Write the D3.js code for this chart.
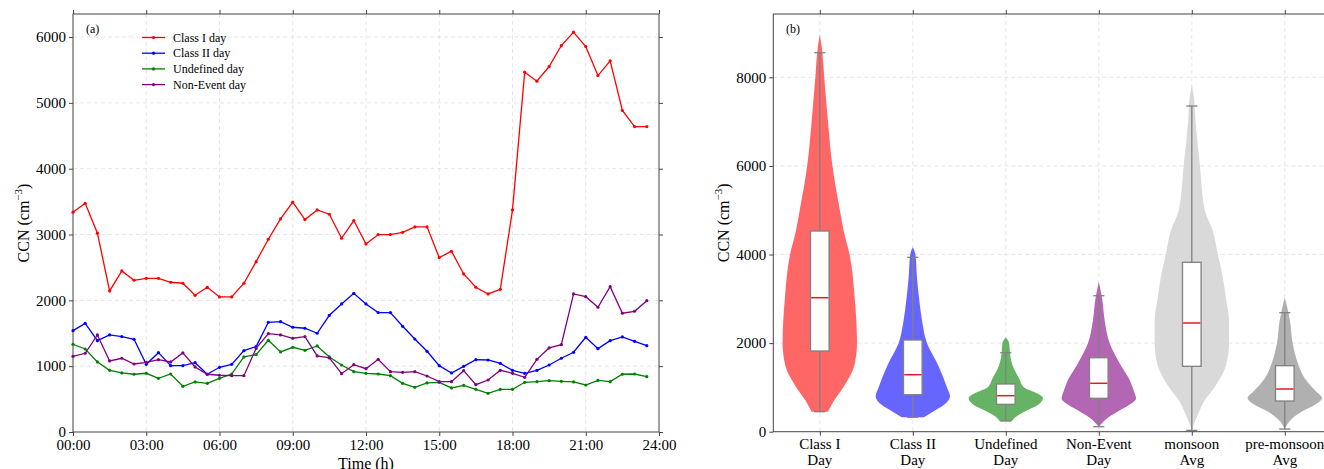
<!DOCTYPE html>
<html>
<head>
<meta charset="utf-8">
<script src="https://cdn.jsdelivr.net/npm/d3@7"></script>
<style>
  body { margin: 0; background: #fff; }
  svg text { font-family: "Liberation Serif", "Times New Roman", serif; fill: #000; }
  .grid line { stroke: #e0e0e0; stroke-dasharray: 4,3; stroke-width: 0.8; }
  .axis path, .axis line { stroke: #444; }
</style>
</head>
<body>
<div id="chart"></div>
<script>
// ---- panel (a) data : half-hourly mean CCN ----
const hours = d3.range(48).map(i => i * 0.5);

const classI = [3339, 3475, 3020, 2143, 2447, 2305, 2335, 2335, 2275, 2260, 2077, 2199,
  2052, 2052, 2260, 2588, 2928, 3237, 3491, 3227, 3374, 3308, 2943, 3212,
  2857, 2999, 2999, 3034, 3116, 3116, 2649, 2746, 2401, 2199, 2097, 2168,
  3374, 5466, 5329, 5552, 5871, 6074, 5856, 5415, 5638, 4884, 4640, 4640];
const classII = [1540, 1651, 1388, 1474, 1449, 1408, 1028, 1205, 1008, 1008, 1053, 877,
  983, 1028, 1236, 1297, 1666, 1676, 1591, 1576, 1500, 1773, 1945, 2107,
  1945, 1814, 1814, 1606, 1413, 1226, 1008, 897, 998, 1099, 1094, 1043,
  937, 892, 937, 1018, 1120, 1211, 1439, 1266, 1388, 1444, 1378, 1312];
const undefinedDay = [1333, 1261, 1064, 937, 897, 877, 892, 816, 881, 694, 760, 740,
  816, 881, 1140, 1175, 1394, 1216, 1287, 1241, 1307, 1140, 1018, 917,
  892, 881, 856, 740, 679, 745, 755, 669, 709, 649, 588, 649,
  649, 755, 765, 780, 770, 760, 714, 785, 765, 877, 881, 841];
const nonEvent = [1150, 1196, 1474, 1079, 1120, 1033, 1059, 1099, 1064, 1201, 988, 877,
  862, 856, 856, 1270, 1494, 1474, 1424, 1449, 1155, 1125, 886, 1023,
  962, 1104, 917, 907, 917, 851, 765, 765, 932, 719, 790, 937,
  892, 831, 1104, 1277, 1327, 2097, 2056, 1895, 2208, 1804, 1834, 1995];

const seriesNames = ["Class I day", "Class II day", "Undefined day", "Non-Event day"];
const seriesColors = ["#ff0000", "#0000ff", "#008000", "#800080"];
const seriesValues = [classI, classII, undefinedDay, nonEvent];

const timeTicks = [0, 3, 6, 9, 12, 15, 18, 21, 24];
const timeTickLabels = ["00:00", "03:00", "06:00", "09:00", "12:00", "15:00", "18:00", "21:00", "24:00"];
const ccnTicksA = [0, 1000, 2000, 3000, 4000, 5000, 6000];

// ---- panel (b) data : distributions ----
const groupLabels = [["Class I", "Day"], ["Class II", "Day"], ["Undefined", "Day"],
  ["Non-Event", "Day"], ["monsoon", "Avg"], ["pre-monsoon", "Avg"]];
const violinColors = ["#ff6666", "#6666ff", "#66b366", "#b366b3", "#d9d9d9", "#b0b0b0"];

// [value, relative half width]
const violinClassI = [[451, 0.22], [500, 0.25], [700, 0.38], [1000, 0.63], [1500, 0.93], [2000, 1.0],
  [3000, 0.94], [4000, 0.8], [4500, 0.65], [5000, 0.54], [6000, 0.34], [7000, 0.22], [8000, 0.12], [8700, 0.05], [8970, 0]];
const violinClassII = [[325, 0.3], [450, 0.54], [600, 0.83], [800, 1.0], [1000, 0.92], [1500, 0.68],
  [2000, 0.38], [2500, 0.25], [3000, 0.17], [3500, 0.11], [4000, 0.07], [4162, 0]];
const violinUndefined = [[241, 0.17], [300, 0.22], [450, 0.5], [600, 0.86], [760, 1.0], [900, 0.75],
  [1000, 0.49], [1200, 0.36], [1500, 0.18], [1800, 0.11], [2000, 0.09], [2130, 0]];
const violinNonEvent = [[113, 0], [300, 0.22], [450, 0.5], [600, 0.81], [750, 1.0], [900, 0.95],
  [1200, 0.81], [1500, 0.59], [2000, 0.29], [2500, 0.16], [3000, 0.09], [3386, 0]];
const violinMonsoon = [[30, 0], [150, 0.05], [400, 0.17], [700, 0.34], [1000, 0.61], [1500, 0.92],
  [2000, 1.0], [2500, 1.0], [3000, 0.92], [3500, 0.83], [4000, 0.7], [4550, 0.56], [5000, 0.35],
  [6000, 0.22], [7000, 0.1], [7600, 0.05], [7824, 0]];
const violinPreMonsoon = [[60, 0], [300, 0.2], [450, 0.45], [600, 0.8], [760, 1.0], [900, 0.85],
  [1200, 0.54], [1500, 0.37], [2000, 0.21], [2500, 0.14], [3034, 0]];
const violins = [violinClassI, violinClassII, violinUndefined, violinNonEvent, violinMonsoon, violinPreMonsoon];

// box stats: [low whisker, q1, median, q3, high whisker]
const boxStats = [
  [451, 1822, 3025, 4530, 8555],
  [325, 835, 1287, 2070, 3937],
  [241, 618, 813, 1077, 1783],
  [113, 754, 1093, 1670, 3070],
  [30, 1476, 2454, 3824, 7352],
  [60, 693, 964, 1490, 2686]
];
const ccnTicksB = [0, 2000, 4000, 6000, 8000];

// ---- layout ----
const W = 1324, H = 469;
const svg = d3.select("#chart").append("svg").attr("width", W).attr("height", H);

const fontTick = 15, fontLabel = 16;
const serif = "Liberation Serif, Times New Roman, serif";

function drawFrame(g, left, right, top, bottom) {
    g.append("rect").attr("x", left).attr("y", top)
        .attr("width", right - left).attr("height", bottom - top)
        .attr("fill", "none").attr("stroke", "#444").attr("stroke-width", 1);
}

function styleTicks(sel) {
    sel.attr("font-family", serif).attr("font-size", fontTick);
    sel.select(".domain").remove();
}

/* * * * * * * * * * * * * *
*       Panel (a)          *
* * * * * * * * * * * * * */
const a = {left: 73, right: 659, top: 14, bottom: 432};
const xA = d3.scaleLinear().domain([0, 24]).range([a.left, a.right]);
const yA = d3.scaleLinear().domain([0, 6350]).range([a.bottom, a.top]);

const gA = svg.append("g");

// grid
gA.append("g").attr("class", "grid")
    .selectAll("line").data(timeTicks.slice(1, -1)).join("line")
    .attr("x1", d => xA(d)).attr("x2", d => xA(d)).attr("y1", a.top).attr("y2", a.bottom);
gA.append("g").attr("class", "grid")
    .selectAll("line").data(ccnTicksA.slice(1)).join("line")
    .attr("x1", a.left).attr("x2", a.right).attr("y1", d => yA(d)).attr("y2", d => yA(d));

// axes
gA.append("g").attr("class", "axis").attr("transform", `translate(0,${a.bottom})`)
    .call(d3.axisBottom(xA).tickValues(timeTicks).tickSize(4).tickPadding(3)
        .tickFormat((d, i) => timeTickLabels[i]))
    .call(styleTicks);
gA.append("g").attr("class", "axis").attr("transform", `translate(0,${a.top})`)
    .call(d3.axisTop(xA).tickValues(timeTicks).tickSize(4).tickFormat(""))
    .call(styleTicks);
gA.append("g").attr("class", "axis").attr("transform", `translate(${a.left},0)`)
    .call(d3.axisLeft(yA).tickValues(ccnTicksA).tickSize(4).tickPadding(3).tickFormat(d3.format("d")))
    .call(styleTicks);
gA.append("g").attr("class", "axis").attr("transform", `translate(${a.right},0)`)
    .call(d3.axisRight(yA).tickValues(ccnTicksA).tickSize(4).tickFormat(""))
    .call(styleTicks);

drawFrame(gA, a.left, a.right, a.top, a.bottom);

// lines
const line = d3.line().x((d, i) => xA(hours[i])).y(d => yA(d));
seriesValues.forEach((vals, k) => {
    gA.append("path").datum(vals)
        .attr("d", line).attr("fill", "none")
        .attr("stroke", seriesColors[k]).attr("stroke-width", 1.3);
    gA.append("g").selectAll("circle").data(vals).join("circle")
        .attr("cx", (d, i) => xA(hours[i])).attr("cy", d => yA(d))
        .attr("r", 1.6).attr("fill", seriesColors[k]);
});

// legend
const leg = gA.append("g");
seriesNames.forEach((name, k) => {
    const yy = 37.5 + k * 15.7;
    leg.append("line").attr("x1", 142).attr("x2", 165).attr("y1", yy).attr("y2", yy)
        .attr("stroke", seriesColors[k]).attr("stroke-width", 1.3);
    leg.append("circle").attr("cx", 153.5).attr("cy", yy).attr("r", 1.6).attr("fill", seriesColors[k]);
    leg.append("text").attr("x", 173).attr("y", yy).attr("dy", "0.35em")
        .style("font-size", "12px").text(name);
});

gA.append("text").attr("x", 86).attr("y", 29).attr("dy", "0.35em")
    .style("font-size", "12px").text("(a)");

// axis labels
gA.append("text").attr("transform", `translate(29,${(a.top + a.bottom) / 2}) rotate(-90)`)
    .attr("text-anchor", "middle").style("font-size", fontLabel + "px")
    .html('CCN (cm<tspan dy="-7" font-size="11px">−3</tspan><tspan dy="7">)</tspan>');
gA.append("text").attr("x", xA(12)).attr("y", 469)
    .attr("text-anchor", "middle").style("font-size", fontLabel + "px").text("Time (h)");

/* * * * * * * * * * * * * *
*       Panel (b)          *
* * * * * * * * * * * * * */
const b = {left: 773.3, right: 1331.3, top: 14, bottom: 431.7};
const xB = d3.scaleLinear().domain([-0.5, 5.5]).range([b.left, b.right]);
const yB = d3.scaleLinear().domain([0, 9430]).range([b.bottom, b.top]);
const gB = svg.append("g");
const idx = d3.range(groupLabels.length);

gB.append("g").attr("class", "grid")
    .selectAll("line").data(idx).join("line")
    .attr("x1", d => xB(d)).attr("x2", d => xB(d)).attr("y1", b.top).attr("y2", b.bottom);
gB.append("g").attr("class", "grid")
    .selectAll("line").data(ccnTicksB.slice(1)).join("line")
    .attr("x1", b.left).attr("x2", b.right).attr("y1", d => yB(d)).attr("y2", d => yB(d));

gB.append("g").attr("class", "axis").attr("transform", `translate(0,${b.bottom})`)
    .call(d3.axisBottom(xB).tickValues(idx).tickSize(4).tickFormat(""))
    .call(styleTicks);
gB.append("g").attr("class", "axis").attr("transform", `translate(0,${b.top})`)
    .call(d3.axisTop(xB).tickValues(idx).tickSize(4).tickFormat(""))
    .call(styleTicks);
gB.append("g").attr("class", "axis").attr("transform", `translate(${b.left},0)`)
    .call(d3.axisLeft(yB).tickValues(ccnTicksB).tickSize(4).tickPadding(3).tickFormat(d3.format("d")))
    .call(styleTicks);

// category labels (two lines)
const catLab = gB.append("g").selectAll("text").data(groupLabels).join("text")
    .attr("text-anchor", "middle").style("font-size", fontTick + "px")
    .attr("transform", (d, i) => `translate(${xB(i)},${b.bottom + 17})`);
catLab.append("tspan").attr("x", 0).attr("y", 0).text(d => d[0]);
catLab.append("tspan").attr("x", 0).attr("y", 16).text(d => d[1]);

// violins
const halfW = 0.4;
violins.forEach((prof, i) => {
    const area = d3.area()
        .y(d => yB(d[0]))
        .x0(d => xB(i - d[1] * halfW))
        .x1(d => xB(i + d[1] * halfW))
        .curve(d3.curveMonotoneY);
    gB.append("path").datum(prof).attr("d", area).attr("fill", violinColors[i]);
});

// boxes
const boxHalf = 0.1, capHalf = 0.06;
boxStats.forEach((s, i) => {
    const cx = xB(i);
    const gg = gB.append("g").attr("stroke", "#808080").attr("stroke-width", 1.3);
    gg.append("line").attr("x1", cx).attr("x2", cx).attr("y1", yB(s[0])).attr("y2", yB(s[4]));
    [s[0], s[4]].forEach(v => {
        gg.append("line").attr("x1", xB(i - capHalf)).attr("x2", xB(i + capHalf))
            .attr("y1", yB(v)).attr("y2", yB(v));
    });
    gg.append("rect").attr("x", xB(i - boxHalf)).attr("y", yB(s[3]))
        .attr("width", xB(i + boxHalf) - xB(i - boxHalf)).attr("height", yB(s[1]) - yB(s[3]))
        .attr("fill", "#fff");
    gg.append("line").attr("x1", xB(i - boxHalf) + 0.7).attr("x2", xB(i + boxHalf) - 0.7)
        .attr("y1", yB(s[2])).attr("y2", yB(s[2])).attr("stroke", "#e8191e").attr("stroke-width", 1.5);
});

drawFrame(gB, b.left, b.right, b.top, b.bottom);

gB.append("text").attr("x", 786).attr("y", 29).attr("dy", "0.35em")
    .style("font-size", "12px").text("(b)");
gB.append("text").attr("transform", `translate(729,${(b.top + b.bottom) / 2}) rotate(-90)`)
    .attr("text-anchor", "middle").style("font-size", fontLabel + "px")
    .html('CCN (cm<tspan dy="-7" font-size="11px">−3</tspan><tspan dy="7">)</tspan>');
</script>
</body>
</html>
